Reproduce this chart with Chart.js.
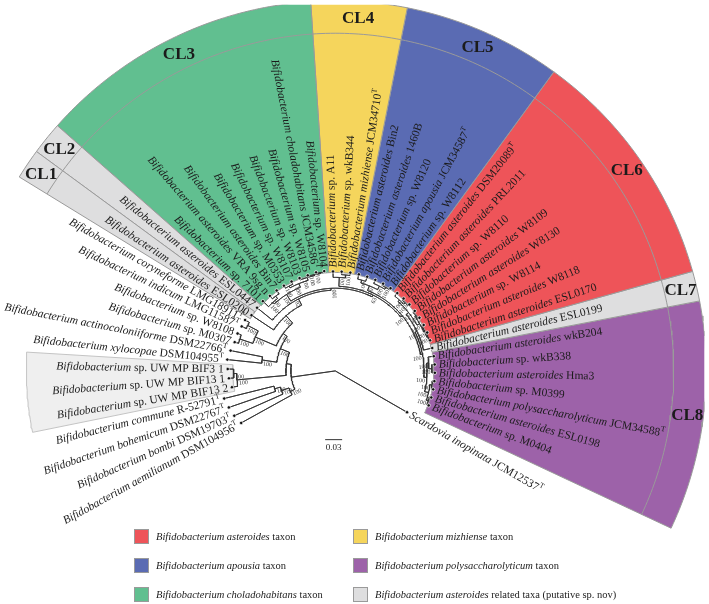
<!DOCTYPE html>
<html><head><meta charset="utf-8">
<script src="https://cdn.jsdelivr.net/npm/chart.js@4/dist/chart.umd.min.js"></script>
<style>html,body{margin:0;padding:0;background:#fff;overflow:hidden}</style>
</head><body>
<canvas id="c" width="709" height="604" style="display:block;width:709px;height:604px"></canvas>
<script>
// ---------------- DATA ----------------
const leafItalic = ["Bifidobacterium aemilianum","Bifidobacterium bombi","Bifidobacterium bohemicum","Bifidobacterium commune","Bifidobacterium","Bifidobacterium","Bifidobacterium","Bifidobacterium xylocopae","Bifidobacterium actinocoloniiforme","Bifidobacterium","Bifidobacterium","Bifidobacterium indicum","Bifidobacterium coryneforme","Bifidobacterium asteroides","Bifidobacterium asteroides","Bifidobacterium","Bifidobacterium asteroides","Bifidobacterium asteroides","Bifidobacterium","Bifidobacterium","Bifidobacterium","Bifidobacterium","Bifidobacterium choladohabitans","Bifidobacterium","Bifidobacterium","Bifidobacterium","Bifidobacterium mizhiense","Bifidobacterium asteroides","Bifidobacterium asteroides","Bifidobacterium","Bifidobacterium apousia","Bifidobacterium","Bifidobacterium asteroides","Bifidobacterium asteroides","Bifidobacterium","Bifidobacterium asteroides","Bifidobacterium asteroides","Bifidobacterium","Bifidobacterium asteroides","Bifidobacterium asteroides","Bifidobacterium asteroides","Bifidobacterium asteroides","Bifidobacterium","Bifidobacterium asteroides","Bifidobacterium","Bifidobacterium polysaccharolyticum","Bifidobacterium asteroides","Bifidobacterium","Scardovia inopinata"];
const leafStrain = ["DSM104956","DSM19703","DSM22767","R-52791","sp. UW MP BIF13 2","sp. UW MP BIF13 1","sp. UW MP BIF3 1","DSM104955","DSM22766","sp. M0307","sp. W8108","LMG11587","LMG18911","ESL0200","ESL0447","sp. 7101","VRA 9sg n","Bin7","sp. M0353","sp. W8107","sp. W8103","sp. W8105","JCM34586","sp. W8104","sp. A11","sp. wkB344","JCM34710","Bin2","1460B","sp. W8120","JCM34587","sp. W8112","DSM20089","PRL2011","sp. W8110","W8109","W8130","sp. W8114","W8118","ESL0170","ESL0199","wkB204","sp. wkB338","Hma3","sp. M0399","JCM34588","ESL0198","sp. M0404","JCM12537"];
const leafTypeStrain = [1,1,1,1,0,0,0,1,1,0,0,1,1,0,0,0,0,0,0,0,0,0,1,0,0,0,1,0,0,0,1,0,1,0,0,0,0,0,0,0,0,0,0,0,0,1,0,0,1];
// leaf angle (degrees, counter-clockwise from 3 o'clock)
const leafAngles = [209,204,199,194,189,184,179,174,169,164,159,154.5,150.5,146.3,141,136,131,126,121,116,111,106,101,96.3,91.3,86.3,81.3,76.3,71.3,66.3,61.3,56.3,51.5,46.7,41.9,37.1,32.3,27.5,22.7,17.9,13.3,8.5,3.7,-1.1,-5.9,-10.7,-15.5,-20.3,-30];

// tree topology with branch lengths (Newick pieces; Ln = leaf n, internal labels = bootstrap)
const nwkOutgroupA = "(L0:59,(L1:54,(L2:50,L3:52)100:6)100:8)100:5";
const nwkUW = "(L4:6,(L5:5,L6:6)100:3)100:50";
const nwkXA = "(L7:35,L8:33)100:15";
const nwkIndicum = "((L9:4,L10:4)100:14,(L11:5,L12:5)100:12)100:23";
const nwkCL3 = "((L15:8,(L16:4,L17:4)100:3)100:2,((L18:3,L19:3)100:2,(L20:2,(L21:1,(L22:1,L23:1)100:1)100:1)100:3)100:4)100:8";
const nwkCL4 = "(L24:6,(L25:3,L26:3)100:3)100:9";
const nwkCL5 = "((L27:5,L28:5)100:3,(L29:4,(L30:2,L31:2)100:2)100:4)100:5";
const nwkCL6 = "((L32:4,(L33:2,L34:2)100:2)100:2,((L35:2,L36:2)97:1,(L37:2,(L38:1,L39:1)100:1)100:1)100:3)83:3";
const nwkCL8 = "((L41:6,(L42:3,L43:3)100:3)100:2,((L44:2,L45:2)100:2,(L46:2,L47:2)100:2)100:4)100:3";

const cladeNames = ["CL1","CL2","CL3","CL4","CL5","CL6","CL7","CL8"];
const cladeFirstLeaf = [13,14,15,24,27,32,40,41];
const cladeLastLeaf  = [13,14,23,26,31,39,40,47];
const cladeTaxon = ["related","related","choladohabitans","mizhiense","apousia","asteroides","related","polysaccharolyticum"];
const highlightFirstLeaf = 4, highlightLastLeaf = 6;

const legendTaxa = ["asteroides","mizhiense","apousia","polysaccharolyticum","choladohabitans","related"];
const legendItalic = ["Bifidobacterium asteroides","Bifidobacterium mizhiense","Bifidobacterium apousia","Bifidobacterium polysaccharolyticum","Bifidobacterium choladohabitans","Bifidobacterium asteroides"];
const legendRoman = [" taxon"," taxon"," taxon"," taxon"," taxon"," related taxa (putative sp. nov)"];
const scaleBarLabel = "0.03";

// ---------------- STYLE ----------------
const taxonColor = {asteroides:"#EE5459", mizhiense:"#F5D55C", apousia:"#5A6BB3", polysaccharolyticum:"#9D62A9", choladohabitans:"#61BF90", related:"#DEDEDF"};
const R_OUT = 376, R_RING = 343, R_HIGHLIGHT = 313;
const SERIF = "'Liberation Serif','Times New Roman',serif";

// ---------------- TREE ----------------
const newick = "((" + nwkOutgroupA + ",(" + nwkUW + ",(" + nwkXA + ",(" + nwkIndicum +
  ",(L13:27,(L14:20,(" + nwkCL3 + ",(" + nwkCL4 + ",(" + nwkCL5 + ",((" + nwkCL6 + ",L40:9)100:2," + nwkCL8 +
  ")100:2)100:2)63:2)100:2)92:7)100:10)100:5)100:10):5):45,L48:84);";

function parseNewick(s){
  let i=0;
  function node(){
    const n={children:[],label:"",len:0};
    if(s[i]==="("){ i++; n.children.push(node()); while(s[i]===","){i++; n.children.push(node());} i++; }
    let lab=""; while(i<s.length && !",:);".includes(s[i])){lab+=s[i];i++;}
    n.label=lab;
    if(s[i]===":"){ i++; let num=""; while(i<s.length && !",);".includes(s[i])){num+=s[i];i++;} n.len=parseFloat(num); }
    return n;
  }
  return node();
}
const root = parseNewick(newick);
const leafR = [];
const internalNodes = [];
(function lay(n, r0){
  n.r = r0 + n.len;
  if(!n.children.length){ n.idx=parseInt(n.label.slice(1)); n.a=leafAngles[n.idx]; leafR[n.idx]=n.r; }
  else { n.children.forEach(c=>lay(c,n.r)); n.a=(n.children[0].a+n.children[n.children.length-1].a)/2; if(n.label) internalNodes.push(n); }
})(root,0);

const pol=(r,a)=>({x:r*Math.cos(a*Math.PI/180), y:r*Math.sin(a*Math.PI/180)});
function arcPts(pts,r,a1,a2){ const n=Math.max(1,Math.ceil(Math.abs(a2-a1)/0.8)); for(let k=1;k<=n;k++) pts.push(pol(r,a1+(a2-a1)*k/n)); }
const branchPts=[pol(0,root.a)];
(function tour(n){
  let cur=n.a;
  for(const c of n.children){ arcPts(branchPts,n.r,cur,c.a); branchPts.push(pol(c.r,c.a)); tour(c); branchPts.push(pol(n.r,c.a)); cur=c.a; }
  if(n.children.length) arcPts(branchPts,n.r,cur,n.a);
})(root);

function sector(a1,a2,rIn,rOut){
  const pts=[]; pts.push(pol(rOut,a1)); arcPts(pts,rOut,a1,a2); pts.push(pol(rIn,a2)); arcPts(pts,rIn,a2,a1); pts.push(pol(rOut,a1)); return pts;
}
const bound=(i,j)=>(leafAngles[i]+leafAngles[j])/2;

const datasets=[];
const cladeStart=[], cladeEnd=[];
cladeNames.forEach((nm,k)=>{
  const a1=bound(cladeFirstLeaf[k]-1,cladeFirstLeaf[k]), a2=bound(cladeLastLeaf[k],cladeLastLeaf[k]+1);
  cladeStart.push(a1); cladeEnd.push(a2);
  let rin=1e9; for(let i=cladeFirstLeaf[k];i<=cladeLastLeaf[k];i++) rin=Math.min(rin,leafR[i]);
  datasets.push({data:sector(a1,a2,rin-1,R_OUT),showLine:true,fill:'shape',backgroundColor:taxonColor[cladeTaxon[k]],borderColor:'#9a9a9a',borderWidth:1,pointRadius:0,order:6});
});
// highlight box
{
  const a1=bound(highlightFirstLeaf-1,highlightFirstLeaf), a2=bound(highlightLastLeaf,highlightLastLeaf+1);
  datasets.push({data:sector(a1,a2,104,R_HIGHLIGHT),showLine:true,fill:'shape',backgroundColor:'#efefef',borderColor:'#c4c4c4',borderWidth:1,pointRadius:0,order:6});
}
// ring line
{
  const pts=[pol(R_RING,cladeStart[0])]; arcPts(pts,R_RING,cladeStart[0],cladeEnd[cladeEnd.length-1]);
  datasets.push({data:pts,showLine:true,fill:false,borderColor:'#9a9a9a',borderWidth:1,pointRadius:0,order:4});
}
// branches
datasets.push({data:branchPts,showLine:true,fill:false,borderColor:'#333',borderWidth:0.9,pointRadius:0,order:2});
// leaf tips
datasets.push({data:leafAngles.map((a,i)=>pol(leafR[i],a)),showLine:false,pointRadius:1.7,pointBackgroundColor:'#111',pointBorderColor:'#fff',pointBorderWidth:0.7,order:1});

// ---------------- TEXT PLUGIN ----------------
function drawParts(ctx,parts,x,y,alignRight){
  const w=parts.map(p=>{ctx.font=p.font;return ctx.measureText(p.text).width;});
  const tot=w.reduce((a,b)=>a+b,0);
  let cx=alignRight?x-tot:x;
  parts.forEach((p,i)=>{ctx.font=p.font;ctx.fillText(p.text,cx,y+(p.dy||0));cx+=w[i];});
}
const textPlugin={
  id:'treeText',
  afterDatasetsDraw(chart){
    const ctx=chart.ctx, xs=chart.scales.x, ys=chart.scales.y;
    const px=(r,a)=>{const p=pol(r,a);return [xs.getPixelForValue(p.x),ys.getPixelForValue(p.y)];};
    const rightSide=a=>a<93.8 && a>-90;
    ctx.save();
    ctx.textBaseline='middle';
    ctx.fillStyle='#1b1b1b';
    // leaf labels
    leafAngles.forEach((a,i)=>{
      const [x,y]=px(leafR[i]+4,a);
      const t=a*Math.PI/180;
      ctx.save(); ctx.translate(x,y);
      const parts=[{text:leafItalic[i],font:"italic 11.5px "+SERIF},{text:" "+leafStrain[i],font:"11.5px "+SERIF}];
      if(leafTypeStrain[i]) parts.push({text:"T",font:"7.5px "+SERIF,dy:-4});
      if(rightSide(a)){ ctx.rotate(-t); drawParts(ctx,parts,0,0.5,false); }
      else { ctx.rotate(-(t-Math.PI)); drawParts(ctx,parts,0,0.5,true); }
      ctx.restore();
    });
    // bootstrap values
    ctx.fillStyle='#333';
    internalNodes.forEach(n=>{
      if(n.r<1) return;
      const [x,y]=px(n.r-1.5,n.a);
      const t=n.a*Math.PI/180;
      ctx.save(); ctx.translate(x,y);
      ctx.font="6px "+SERIF;
      if(rightSide(n.a)){ ctx.rotate(-t); ctx.textAlign='right'; ctx.fillText(n.label,0,3.5); }
      else { ctx.rotate(-(t-Math.PI)); ctx.textAlign='left'; ctx.fillText(n.label,0,3.5); }
      ctx.restore();
    });
    // clade labels
    ctx.fillStyle='#1b1b1b'; ctx.textAlign='center'; ctx.font="bold 17px "+SERIF;
    cladeNames.forEach((nm,k)=>{ const [x,y]=px((R_OUT+R_RING)/2,(cladeStart[k]+cladeEnd[k])/2); ctx.fillText(nm,x,y+1); });
    // scale bar
    const [sx,sy]=px(70,-98);
    ctx.strokeStyle='#333'; ctx.lineWidth=1;
    ctx.beginPath(); ctx.moveTo(sx-0.5,sy+0.5); ctx.lineTo(sx+16.5,sy+0.5); ctx.stroke();
    ctx.font="9px "+SERIF; ctx.fillText(scaleBarLabel,sx+8,sy+8);
    // legend
    ctx.textAlign='left';
    legendTaxa.forEach((tx,k)=>{
      const col=k%2, row=Math.floor(k/2);
      const lx=col?353:134, ly=529+row*29;
      ctx.fillStyle=taxonColor[tx]; ctx.fillRect(lx,ly,15,15);
      ctx.strokeStyle='#9a9a9a'; ctx.lineWidth=1; ctx.strokeRect(lx+0.5,ly+0.5,14,14);
      ctx.fillStyle='#1b1b1b';
      drawParts(ctx,[{text:legendItalic[k],font:"italic 10.5px "+SERIF},{text:legendRoman[k],font:"10.5px "+SERIF}],lx+22,ly+8,false);
    });
    ctx.restore();
  }
};

new Chart(document.getElementById('c'),{
  type:'scatter',
  data:{datasets},
  options:{
    responsive:false, animation:false, events:[],
    layout:{padding:0},
    scales:{x:{type:'linear',min:-335,max:374,display:false},y:{type:'linear',min:-232,max:372,display:false}},
    plugins:{legend:{display:false},tooltip:{enabled:false}},
    elements:{line:{tension:0}}
  },
  plugins:[textPlugin]
});
</script>
</body></html>
